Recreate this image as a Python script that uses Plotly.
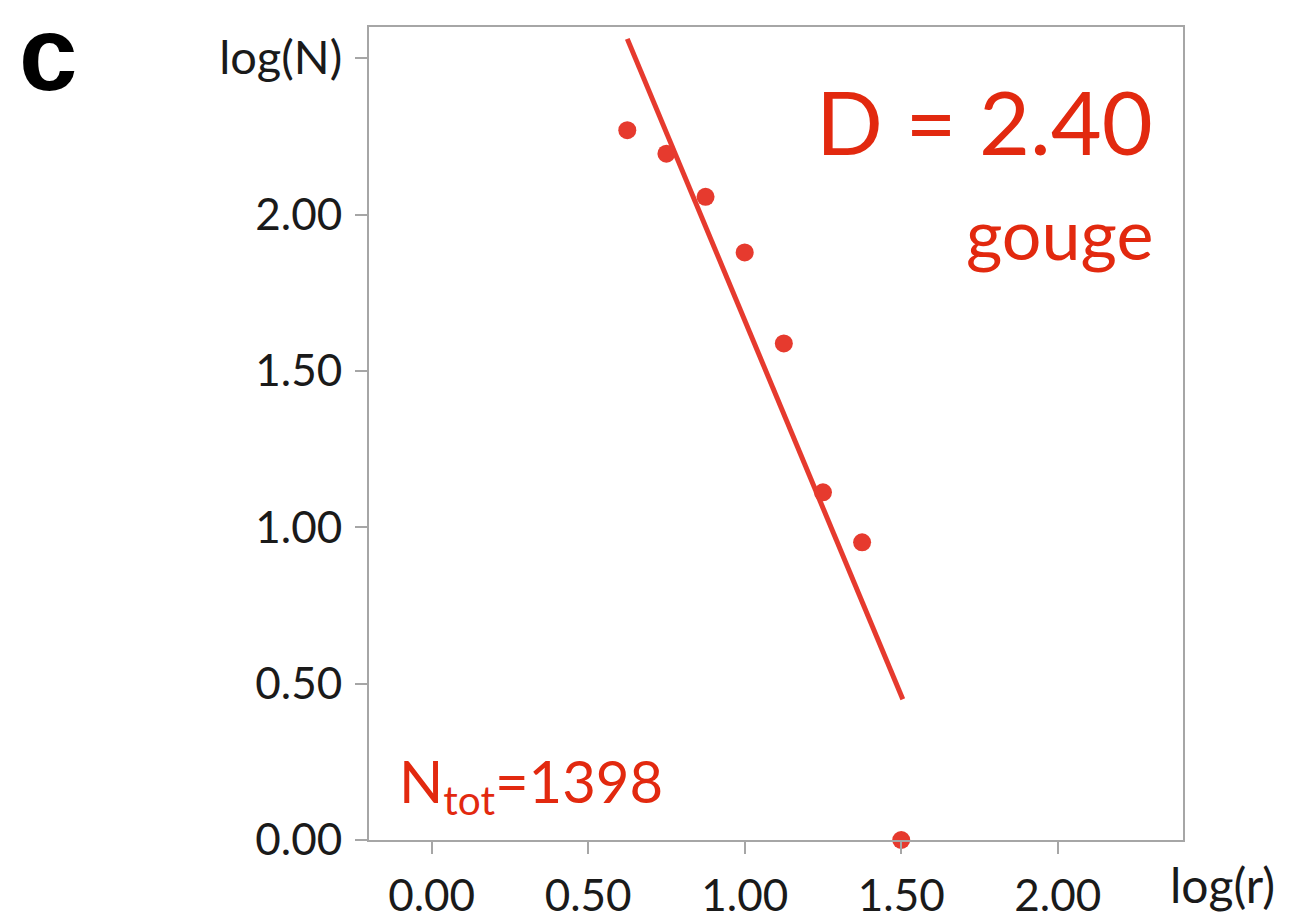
import plotly.graph_objects as go

log_r = [0.625, 0.75, 0.875, 1.0, 1.125, 1.25, 1.375, 1.5]
log_n = [2.27, 2.195, 2.057, 1.879, 1.588, 1.112, 0.952, 0.0]
fit_x = [0.625, 1.505]
fit_y = [2.562, 0.450]
x_ticks = [0.0, 0.5, 1.0, 1.5, 2.0]
x_labels = ["0.00", "0.50", "1.00", "1.50", "2.00"]
y_ticks = [0.0, 0.5, 1.0, 1.5, 2.0, 2.5]
y_labels = ["0.00", "0.50", "1.00", "1.50", "2.00",
            "<span style='font-size:47px'>log(N)</span>"]

RED = "#e2290f"
PT = "#e63a2e"
FONT = "Lato"
PW, PH = 814, 813

fig = go.Figure()
fig.add_trace(go.Scatter(x=fit_x, y=fit_y, mode="lines",
                         line=dict(color=PT, width=5), cliponaxis=False,
                         showlegend=False, hoverinfo="skip"))
fig.add_trace(go.Scatter(x=log_r, y=log_n, mode="markers",
                         marker=dict(color=PT, size=18), cliponaxis=False,
                         showlegend=False))

axis_common = dict(showline=True, linecolor="#a6a6a6", linewidth=2, mirror=True,
                   ticks="outside", ticklen=12, tickwidth=2, tickcolor="#a6a6a6",
                   showgrid=False, zeroline=False, automargin=False,
                   tickfont=dict(family=FONT, size=44, color="#1a1a1a"))

fig.update_layout(
    width=1304, height=921,
    margin=dict(l=369, r=121, t=27, b=81),
    paper_bgcolor="white", plot_bgcolor="white",
    xaxis=dict(range=[-0.2, 2.4], tickvals=x_ticks, ticktext=x_labels,
               ticklabelstandoff=4, **axis_common),
    yaxis=dict(range=[0, 2.6], tickvals=y_ticks, ticktext=y_labels,
               ticklabelstandoff=4, **axis_common),
)

fig.add_annotation(x=(1222 - 369) / PW, y=(840 - 885) / PH, xref="paper", yref="paper",
                   text="log(r)", showarrow=False, xanchor="center", yanchor="middle",
                   font=dict(family=FONT, size=48, color="#1a1a1a"))
fig.add_annotation(x=1.0, y=2.3, xref="paper", yref="y", xshift=-28,
                   text="D = 2.40", showarrow=False, xanchor="right", yanchor="middle",
                   font=dict(family=FONT, size=88, color=RED))
fig.add_annotation(x=1.0, y=1.94, xref="paper", yref="y", xshift=-28,
                   text="gouge", showarrow=False, xanchor="right", yanchor="middle",
                   font=dict(family=FONT, size=70, color=RED))
fig.add_annotation(x=0.0, y=0.175, xref="paper", yref="y", xshift=28,
                   text="N<sub>tot</sub>=1398", showarrow=False, xanchor="left", yanchor="middle",
                   font=dict(family=FONT, size=58, color=RED))
fig.add_annotation(x=(48 - 369) / PW, y=(840 - 53) / PH, xref="paper", yref="paper",
                   text="<b>c</b>", showarrow=False, xanchor="center", yanchor="middle",
                   font=dict(family="Liberation Sans", size=105, color="black"))

fig.write_html("out.html")
